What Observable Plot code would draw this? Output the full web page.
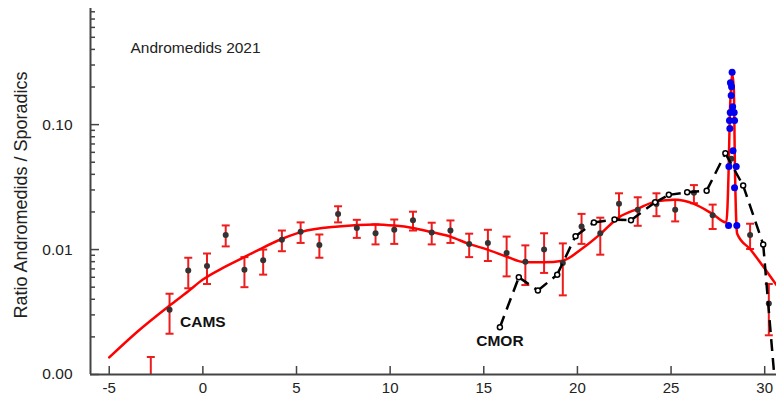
<!DOCTYPE html>
<html><head><meta charset="utf-8">
<script src="https://cdn.jsdelivr.net/npm/d3@7"></script>
<script src="https://cdn.jsdelivr.net/npm/@observablehq/plot@0.6"></script>
<style>
body{margin:0;background:#fff;}
#chart{width:776px;height:396px;}
</style></head><body><div id="chart"></div>
<script>
// CAMS ratio (dots) with error bars
const camsX  = [-2.78,-1.78,-0.78,0.22,1.22,2.22,3.22,4.22,5.22,6.22,7.22,8.22,9.22,10.22,11.22,12.22,13.22,14.22,15.22,16.22,17.22,18.22,19.22,20.22,21.22,22.22,23.22,24.22,25.22,26.22,27.22,28.22,29.22,30.22];
const camsY  = [0.0007,0.0033,0.0068,0.0074,0.0131,0.0069,0.0082,0.0120,0.0139,0.0109,0.0193,0.0149,0.0135,0.0144,0.0172,0.0137,0.0142,0.0111,0.0113,0.0094,0.0080,0.0100,0.0078,0.0153,0.0135,0.0233,0.0208,0.0232,0.0208,0.0285,0.0188,0.0532,0.0131,0.0037];
const camsHi = [0.00138,0.00443,0.0086,0.0093,0.0156,0.0087,0.0100,0.0142,0.0165,0.0132,0.0222,0.0173,0.0159,0.0174,0.0201,0.0164,0.0171,0.0134,0.0144,0.0127,0.0108,0.0135,0.0112,0.0193,0.0180,0.0282,0.0262,0.0282,0.0250,0.0328,0.0229,null,0.0161,0.0053];
const camsLo = [0.0003,0.00212,0.0049,0.0053,0.0106,0.0050,0.0063,0.0097,0.0113,0.0086,0.0165,0.0124,0.0110,0.0111,0.0142,0.0110,0.0113,0.0087,0.0081,0.0061,0.0052,0.0065,0.0043,0.0111,0.0091,0.0172,0.0155,0.0185,0.0168,0.0235,0.0146,null,0.0101,0.00206];

// Red fitted curve
const fitX = [-5,-3.5,-1.78,-0.78,0.0,1.2,2.18,3.06,4.24,5.23,7.23,9.22,10.22,11.21,12.21,13.21,14.2,15.2,16.2,17.21,18.2,19.22,20.22,21.22,22.21,23.21,24.21,25.22,26.22,27.21,27.95,28.08,28.14,28.21,28.26,28.35,28.41,28.49,28.53,29.24,29.87,30.63];
const fitY = [0.00137,0.0022,0.00356,0.00464,0.00575,0.0073,0.00867,0.0101,0.0122,0.0138,0.0153,0.0159,0.01556,0.0149,0.0138,0.0127,0.0111,0.0100,0.0088,0.0079,0.0079,0.00815,0.0101,0.0133,0.0181,0.0212,0.0243,0.0250,0.0232,0.0193,0.0165,0.047,0.125,0.20,0.255,0.195,0.047,0.0156,0.0134,0.0100,0.0075,0.0052];

// CMOR (dashed line, open circles)
const cmorX = [15.86,16.87,17.89,18.92,19.9,20.88,21.98,22.86,24.15,24.88,25.86,26.9,27.9,28.85,29.92,30.9];
const cmorY = [0.00239,0.0060,0.0047,0.0063,0.0128,0.0165,0.0174,0.0172,0.0239,0.0274,0.0287,0.0296,0.0589,0.0325,0.0110,0.0002];

// Outburst (blue dots)
const blueX = [28.07,28.09,28.12,28.14,28.16,28.17,28.21,28.23,28.26,28.29,28.31,28.37,28.39,28.39,28.48,28.51];
const blueY = [0.0156,0.0463,0.108,0.0933,0.125,0.216,0.171,0.201,0.262,0.139,0.0619,0.125,0.108,0.0312,0.0463,0.0156];

// Axis ticks and labels
const xTicks = [-5,0,5,10,15,20,25,30];
const yTicks = [0.001,0.01,0.1];
const yMinor = [0.002,0.003,0.004,0.005,0.006,0.007,0.008,0.009,0.02,0.03,0.04,0.05,0.06,0.07,0.08,0.09,0.2,0.3,0.4,0.5,0.6,0.7,0.8];
const titleText = "Andromedids 2021";
const yLabel = "Ratio Andromedids / Sporadics";
const seriesLabels = [{text:"CAMS", x:0.0, y:0.00265},{text:"CMOR", x:15.86, y:0.00185}];

const cams = camsX.map((x,i)=>({x, y:camsY[i], hi:camsHi[i], lo:camsLo[i]}));
const bars = cams.filter(d=>d.hi!=null);
const fit = fitX.map((x,i)=>({x, y:fitY[i]}));
const cmor = cmorX.map((x,i)=>({x, y:cmorY[i]}));
const cmorSegs = cmor.slice(1).map((d,i)=>({x1:cmor[i].x, y1:cmor[i].y, x2:d.x, y2:d.y}));
const blue = blueX.map((x,i)=>({x, y:blueY[i]}));

const cap = {draw(ctx, size){ const w = Math.sqrt(size/Math.PI); ctx.moveTo(-w,0); ctx.lineTo(w,0); }};
const RED = "#ee1c1c";
const AX = "#444";
const FONT = "Liberation Sans, Arial, sans-serif";

const chart = Plot.plot({
  width: 776, height: 396,
  marginLeft: 90, marginRight: 0, marginTop: 8, marginBottom: 22,
  style: {fontFamily: FONT, fontSize: "15px", color: "#222", background: "#fff"},
  x: {domain: [-6, 30.63]},
  y: {type: "log", domain: [0.001, 0.85]},
  marks: [
    Plot.ruleX(bars, {x:"x", y1:"lo", y2:"hi", stroke:RED, strokeWidth:2, clip:true}),
    Plot.dot(bars, {x:"x", y:"hi", symbol:cap, r:4, stroke:RED, strokeWidth:2, fill:"none", clip:true}),
    Plot.dot(bars, {x:"x", y:"lo", symbol:cap, r:4, stroke:RED, strokeWidth:2, fill:"none", clip:true}),
    Plot.line(fit, {x:"x", y:"y", curve:"monotone-x", stroke:"#ff0000", strokeWidth:2.5, clip:true}),
    Plot.dot(cams, {x:"x", y:"y", r:3, fill:"#333", stroke:"none", clip:true}),
    Plot.link(cmorSegs, {x1:"x1", y1:"y1", x2:"x2", y2:"y2", stroke:"#000", strokeWidth:2.5, strokeDasharray:"12,7", clip:true}),
    Plot.dot(cmor, {x:"x", y:"y", r:2.5, fill:"#fff", stroke:"#000", strokeWidth:1.5, clip:true}),
    Plot.dot(blue, {x:"x", y:"y", r:3.5, fill:"#0000ee", stroke:"none"}),
    // axes
    Plot.axisY(yMinor, {tickSize:-5, tickFormat:()=>"", stroke:AX, strokeWidth:1.5, label:null}),
    Plot.axisY(yTicks, {tickSize:-9, tickPadding:27, tickFormat:d=>d.toFixed(2), stroke:AX, strokeWidth:1.5, fill:"#222", fontSize:15.5, label:null}),
    Plot.axisX(xTicks, {tickSize:-8, tickPadding:15.5, tickFormat:d=>String(d), stroke:AX, strokeWidth:1.5, fill:"#222", fontSize:15, label:null}),
    Plot.ruleX([-6], {stroke:AX, strokeWidth:2}),
    Plot.ruleY([0.001], {stroke:AX, strokeWidth:2}),
    // texts
    Plot.text([titleText], {frameAnchor:"top-left", dx:40, dy:33, textAnchor:"start", fontSize:15.5, fill:"#222"}),
    Plot.text([yLabel], {frameAnchor:"left", dx:-69, dy:3.5, rotate:-90, textAnchor:"middle", lineAnchor:"middle", fontSize:18, fill:"#222"}),
    Plot.text(seriesLabels, {x:"x", y:"y", text:"text", fontSize:15.5, fontWeight:"bold", fill:"#111"})
  ]
});
document.getElementById("chart").append(chart);
</script>
</body></html>
